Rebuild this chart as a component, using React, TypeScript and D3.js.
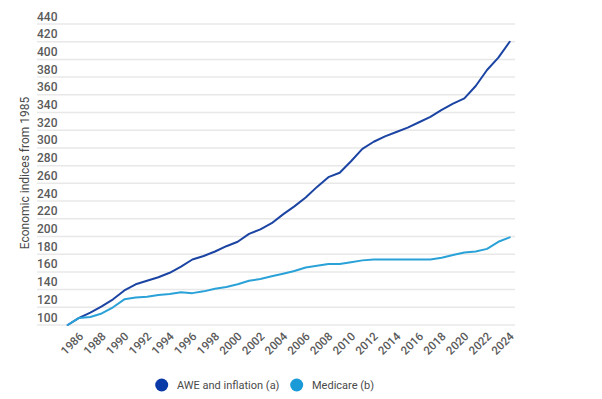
import React from 'react';
import * as d3 from 'd3';

// years on the x axis (1985 = 100 base)
const years = d3.range(1985, 2025);
const tickYears = d3.range(1986, 2025, 2);
const yTicks = d3.range(100, 441, 20);

// AWE and inflation (a)
const awe = [
    100, 108, 114, 121, 129, 139, 146, 150, 154, 159,
    166, 174, 178, 183, 189, 194, 203, 208, 215, 225,
    234, 244, 256, 267, 272, 285, 299, 307, 313, 318,
    323, 329, 335, 343, 350, 356, 370, 388, 402, 420,
];

// Medicare (b)
const medicare = [
    100, 108, 109, 113, 120, 129, 131, 132, 134, 135,
    137, 136, 138, 141, 143, 146, 150, 152, 155, 158,
    161, 165, 167, 169, 169, 171, 173, 174, 174, 174,
    174, 174, 174, 176, 179, 182, 183, 186, 194, 199,
];

const seriesNames = ['AWE and inflation (a)', 'Medicare (b)'];
const seriesColors = ['#1b44a3', '#2aa2d8'];
const legendColors = ['#0a3aa8', '#1a9ad6'];

const FONT = 'Roboto, "Noto Sans", sans-serif';

export default function App() {
    const width = 602, height = 399;

    const x = d3.scaleLinear().domain([1985, 2024]).range([67.7, 509.7]);
    const y = d3.scaleLinear().domain([100, 440]).range([325, 24]);

    const line = d3.line<number>()
        .x((d, i) => x(years[i]))
        .y(d => y(d));

    const series = [awe, medicare];

    return (
        <svg width={width} height={height}
            style={{ position: 'absolute', left: 0, top: 0, background: '#fff' }}
            fontFamily={FONT}>
            {/* gridlines + y tick labels */}
            {yTicks.map(t => (
                <g key={t}>
                    <line x1={37} x2={515} y1={y(t)} y2={y(t)} stroke="#e8e8e8" strokeWidth={1.5} />
                    <text x={37} y={y(t) - 3.5} fontSize={12} fill="#5a5a5a" fontWeight={500}>{t}</text>
                </g>
            ))}

            {/* y axis title */}
            <text transform={`translate(29, 173) rotate(-90)`} textAnchor="middle"
                fontSize={12} fill="#4a4a4a">Economic indices from 1985</text>

            {/* x tick labels */}
            {tickYears.map(yr => (
                <text key={yr} transform={`translate(${x(yr) + 5}, 337) rotate(-45)`}
                    textAnchor="end" fontSize={11.5} fill="#5a5a5a" fontWeight={500}>{yr}</text>
            ))}

            {/* lines */}
            {series.map((s, i) => (
                <path key={i} d={line(s) || ''} fill="none" stroke={seriesColors[i]}
                    strokeWidth={2} strokeLinejoin="round" strokeLinecap="round" />
            ))}

            {/* legend */}
            <g>
                <circle cx={161.7} cy={385} r={6.5} fill={legendColors[0]} />
                <text x={177} y={389} fontSize={11} fill="#4a4a4a">{seriesNames[0]}</text>
                <circle cx={296.7} cy={385} r={6.5} fill={legendColors[1]} />
                <text x={312} y={389} fontSize={11} fill="#4a4a4a">{seriesNames[1]}</text>
            </g>
        </svg>
    );
}
